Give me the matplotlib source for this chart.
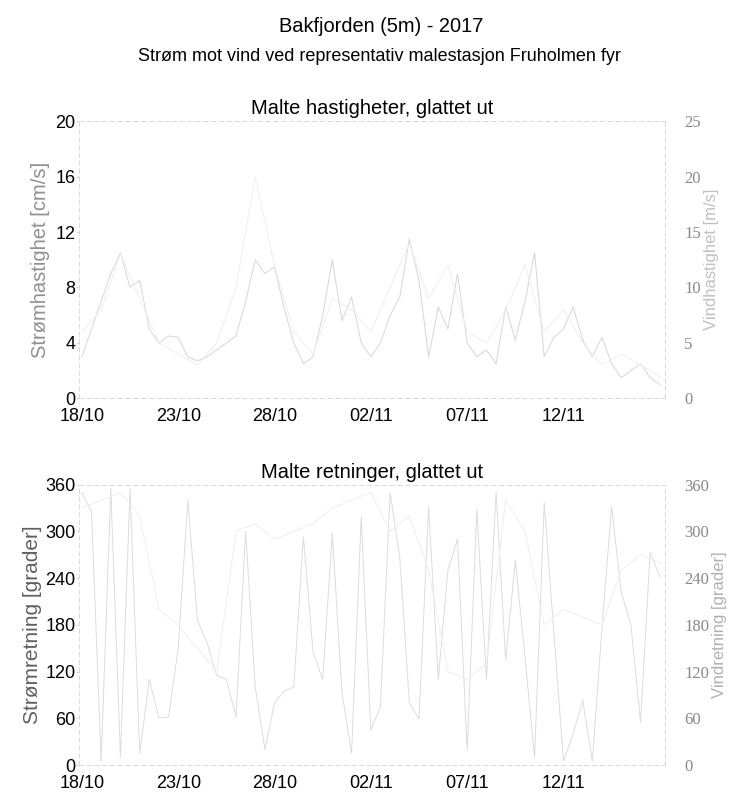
import numpy as np
import pandas as pd
import matplotlib
matplotlib.use("Agg")
import matplotlib.pyplot as plt
import matplotlib.dates as mdates

plt.rcParams['font.family'] = ['Liberation Sans', 'DejaVu Sans']

# ---- data (approx) ----
start = pd.Timestamp("2017-10-18")
# current speed [cm/s], twice daily
cur_speed = [3, 5, 7, 9, 10.5, 8, 8.5, 5, 4, 4.5, 4.4, 3, 2.7, 3, 3.5, 4, 4.5, 7, 10, 9,
             9.5, 6.5, 4, 2.5, 3, 6, 10, 5.6, 7.3, 4, 3, 4, 6, 7.3, 11.5, 8.5, 3, 6.6, 5, 9,
             4, 3, 3.5, 2.5, 6.6, 4.2, 7, 10.5, 3, 4.4, 5, 6.6, 4.2, 3, 4.4, 2.5, 1.5, 2, 2.5, 1.5, 1]
# wind speed [m/s], daily
wind_speed = [6, 8, 13, 9, 5, 4, 3, 5, 10, 20, 12, 6, 4, 9, 8, 6, 10, 14, 9, 12,
              6, 5, 8, 12, 6, 8, 5, 3, 4, 3, 2]
# current direction [grader], twice daily
cur_dir = [350, 325, 5, 355, 10, 355, 15, 110, 60, 62, 150, 340, 186, 157, 115, 110, 62, 300, 100, 20,
           80, 95, 100, 293, 145, 110, 298, 93, 15, 319, 45, 75, 350, 267, 80, 59, 332, 110, 250, 290,
           19, 328, 110, 350, 135, 263, 139, 10, 337, 170, 5, 40, 83, 5, 177, 332, 222, 180, 55, 273, 242]
# wind direction [grader], daily
wind_dir = [330, 340, 350, 320, 200, 180, 150, 120, 300, 310, 290, 300, 310, 330, 340, 350, 300, 320, 250, 120,
            110, 130, 340, 300, 180, 200, 190, 180, 250, 270, 260]

t_half = start + pd.to_timedelta(np.arange(len(cur_speed)) * 12, unit="h")
t_day = start + pd.to_timedelta(np.arange(len(wind_speed)) * 24, unit="h")

xticks = [pd.Timestamp(s) for s in ["2017-10-18", "2017-10-23", "2017-10-28", "2017-11-02", "2017-11-07", "2017-11-12"]]
xlim = (pd.Timestamp("2017-10-17 21:00"), pd.Timestamp("2017-11-17 06:00"))

fig = plt.figure(figsize=(7.36, 7.92), dpi=100)
fig.text(0.518, 0.967, "Bakfjorden (5m) - 2017", ha="center", va="center", fontsize=14.4)
fig.text(0.515, 0.929, "Strøm mot vind ved representativ malestasjon Fruholmen fyr",
         ha="center", va="center", fontsize=13)

spine_col = "#dadada"

def style(ax, ax2):
    for a in (ax, ax2):
        for s in a.spines.values():
            s.set_color(spine_col)
            s.set_linewidth(0.7)
            s.set_linestyle((0, (4, 4)))
    ax.set_xlim(*xlim)
    ax.set_xticks(xticks)
    ax.xaxis.set_major_formatter(mdates.DateFormatter("%d/%m"))
    ax.tick_params(axis="x", length=0, labelsize=13, pad=7)
    ax.tick_params(axis="y", length=2, color=spine_col, labelsize=13, pad=1)
    ax2.tick_params(axis="y", length=0, labelsize=12, pad=14, labelcolor="#888888")
    for lab in ax2.get_yticklabels():
        lab.set_family("Liberation Serif")

# ---- top: speeds ----
ax1 = fig.add_axes([0.108, 0.497, 0.795, 0.350])
ax1r = ax1.twinx()
ax1.plot(t_half, cur_speed, color="#d6d6d6", lw=0.7)
ax1r.plot(t_day, wind_speed, color="#eeeeee", lw=0.7)
ax1.set_ylim(0, 20)
ax1.set_yticks([0, 4, 8, 12, 16, 20])
ax1r.set_ylim(0, 25)
ax1r.set_yticks([0, 5, 10, 15, 20, 25])
ax1.set_title("Malte hastigheter, glattet ut", fontsize=14.5, pad=5)
ax1.set_ylabel("Strømhastighet [cm/s]", fontsize=14.5, color="#909090", labelpad=4)
ax1r.set_ylabel("Vindhastighet [m/s]", fontsize=12, color="#c0c0c0", labelpad=2)
style(ax1, ax1r)

# ---- bottom: directions ----
ax2 = fig.add_axes([0.108, 0.034, 0.795, 0.354])
ax2r = ax2.twinx()
ax2.plot(t_half, cur_dir, color="#dcdcdc", lw=0.7)
ax2r.plot(t_day, wind_dir, color="#eeeeee", lw=0.7)
ax2.set_ylim(0, 360)
ax2.set_yticks([0, 60, 120, 180, 240, 300, 360])
ax2r.set_ylim(0, 360)
ax2r.set_yticks([0, 60, 120, 180, 240, 300, 360])
ax2.set_title("Malte retninger, glattet ut", fontsize=14.5, pad=5)
ax2.set_ylabel("Strømretning [grader]", fontsize=15, color="#606060", labelpad=2)
ax2r.set_ylabel("Vindretning [grader]", fontsize=12, color="#b0b0b0", labelpad=2)
style(ax2, ax2r)

fig.savefig("out.png", dpi=100)
